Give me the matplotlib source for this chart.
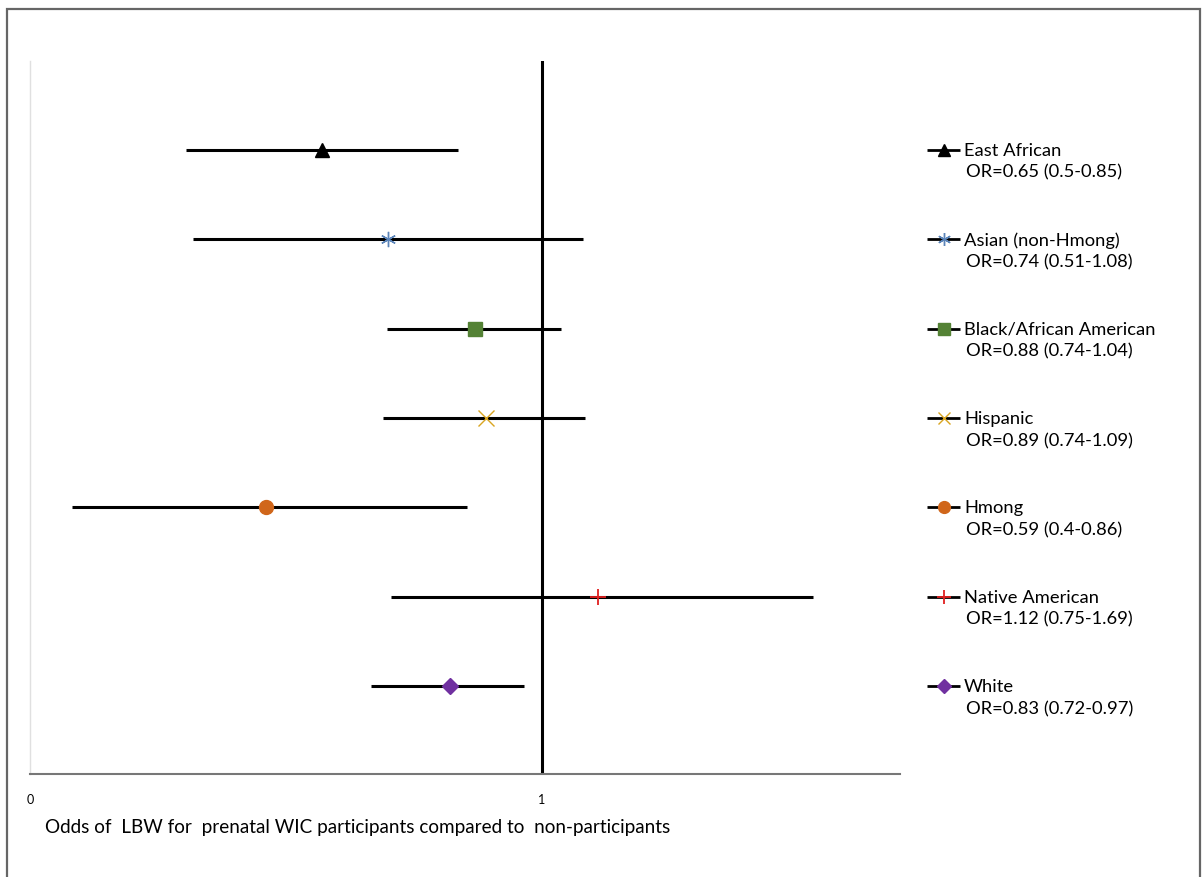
import numpy as np
import matplotlib
matplotlib.use('Agg')
import matplotlib.pyplot as plt
from matplotlib.patches import Rectangle

plt.rcParams['font.family'] = ['Lato', 'DejaVu Sans']

# Data (plotted positions, top row first)
groups = ['East African', 'Asian (non-Hmong)', 'Black/African American',
          'Hispanic', 'Hmong', 'Native American', 'White']
or_labels = ['OR=0.65 (0.5-0.85)', 'OR=0.74 (0.51-1.08)', 'OR=0.88 (0.74-1.04)',
             'OR=0.89 (0.74-1.09)', 'OR=0.59 (0.4-0.86)', 'OR=1.12 (0.75-1.69)',
             'OR=0.83 (0.72-0.97)']
point = [0.57, 0.70, 0.87, 0.89, 0.46, 1.11, 0.82]
lower = [0.305, 0.318, 0.697, 0.689, 0.082, 0.705, 0.666]
upper = [0.836, 1.080, 1.037, 1.084, 0.854, 1.529, 0.965]
rows = [7, 6, 5, 4, 3, 2, 1]

markers = ['^', (6, 2, 0), 's', 'x', 'o', '+', 'D']
colors = ['#000000', '#5B84B8', '#548235', '#D9A520', '#D0661A', '#E02020', '#7030A0']
msizes = [10, 11, 10, 11, 10, 12, 8]
medges = [1, 1.0, 1, 1.0, 1, 1.3, 1]

W, H = 1203, 878
fig = plt.figure(figsize=(W / 100, H / 100), dpi=100)

ax = fig.add_axes([30 / W, 1 - 775 / H, 870 / W, 713 / H])
ax.set_xlim(0, 870 / 512)
ax.set_ylim(0.015, 7.996)

for i in range(len(groups)):
    ax.plot([lower[i], upper[i]], [rows[i], rows[i]], color='black', lw=2.2,
            solid_capstyle='butt', zorder=2)
    ax.plot(point[i], rows[i], marker=markers[i], color=colors[i], ms=msizes[i],
            mew=medges[i], ls='none', zorder=3)

ax.axvline(1, color='black', lw=2.2, zorder=1)

for s in ['top', 'right']:
    ax.spines[s].set_visible(False)
ax.spines['left'].set_color('#e0e0e0')
ax.spines['left'].set_linewidth(1)
ax.spines['bottom'].set_color('#777777')
ax.spines['bottom'].set_linewidth(1.5)
ax.set_yticks([])
ax.set_xticks([0, 1])
ax.set_xticklabels(['0', '1'], fontsize=9)
ax.tick_params(axis='x', length=0, pad=14)
ax.set_xlabel('Odds of  LBW for  prenatal WIC participants compared to  non-participants',
              fontsize=13.6, loc='left')
ax.xaxis.set_label_coords(15 / 870, -44 / 713)

# legend drawn in its own axes, in pixel units
lg = fig.add_axes([920 / W, 1 - 775 / H, 280 / W, 713 / H])
lg.set_xlim(920, 1200)
lg.set_ylim(0.015, 7.996)
lg.axis('off')
for i in range(len(groups)):
    lg.plot([927, 960], [rows[i], rows[i]], color='black', lw=2, solid_capstyle='butt')
    lg.plot(943.5, rows[i], marker=markers[i], color=colors[i], ms=msizes[i] * 0.85,
            mew=medges[i], ls='none')
    lg.text(964, rows[i], groups[i], fontsize=13.2, va='center', ha='left')
    lg.text(966, rows[i] - 0.245, or_labels[i], fontsize=13.2, va='center', ha='left')

fig.add_artist(Rectangle((7 / W, -0.01), 1193 / W, 1 - 10 / H + 0.01,
                         transform=fig.transFigure, fill=False,
                         edgecolor='#666666', lw=1.6))

fig.savefig('out.png', dpi=100)
